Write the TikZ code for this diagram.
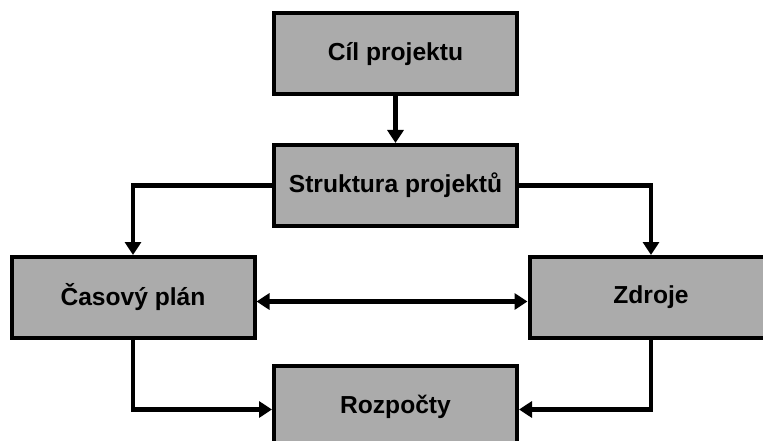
\documentclass[tikz,border=0pt]{standalone}
\usepackage{fontspec}
\setmainfont{Liberation Sans}
\usepackage{tikz}
\usetikzlibrary{shapes,arrows.meta}
\usetikzlibrary{positioning}
\definecolor{boxgray}{HTML}{ABABAB}
\tikzstyle{block} = [draw, rectangle, fill=boxgray, line width=4pt,
    minimum width=243pt, minimum height=81pt,
    font=\bfseries\fontsize{24.6}{28}\selectfont]
\tikzstyle{flow} = [line width=4.5pt, -{Triangle[width=16pt,length=13pt]}]

\begin{document}
\begin{tikzpicture}[node distance = 3cm, auto]
  \clip (0,0) rectangle (763pt,-441pt);
  \node [block] at (395.5pt,-54pt) (cil) {Cíl projektu};
  \node [block, below of=cil, node distance=131.5pt] (struk) {Struktura projektů};
  \node [block, below of=struk, node distance=112pt, xshift=-262.5pt] (cas) {Časový plán};
  \node [block, below of=struk, node distance=112pt, xshift=255.5pt] (zdroje) {Zdroje};
  \node [block, below of=struk, node distance=221pt] (rozp) {Rozpočty};
  \draw [flow] (cil) -- (struk);
  \draw [flow] (struk) -| (cas);
  \draw [flow] (struk) -| (zdroje);
  \draw [flow, {Triangle[width=16pt,length=13pt]}-{Triangle[width=16pt,length=13pt]}]
    ([yshift=-4pt]cas.east) -- ([yshift=-4pt]zdroje.west);
  \draw [flow] (cas) |- ([yshift=-3pt]rozp.west);
  \draw [flow] (zdroje) |- ([yshift=-3pt]rozp.east);
\end{tikzpicture}
\end{document}
